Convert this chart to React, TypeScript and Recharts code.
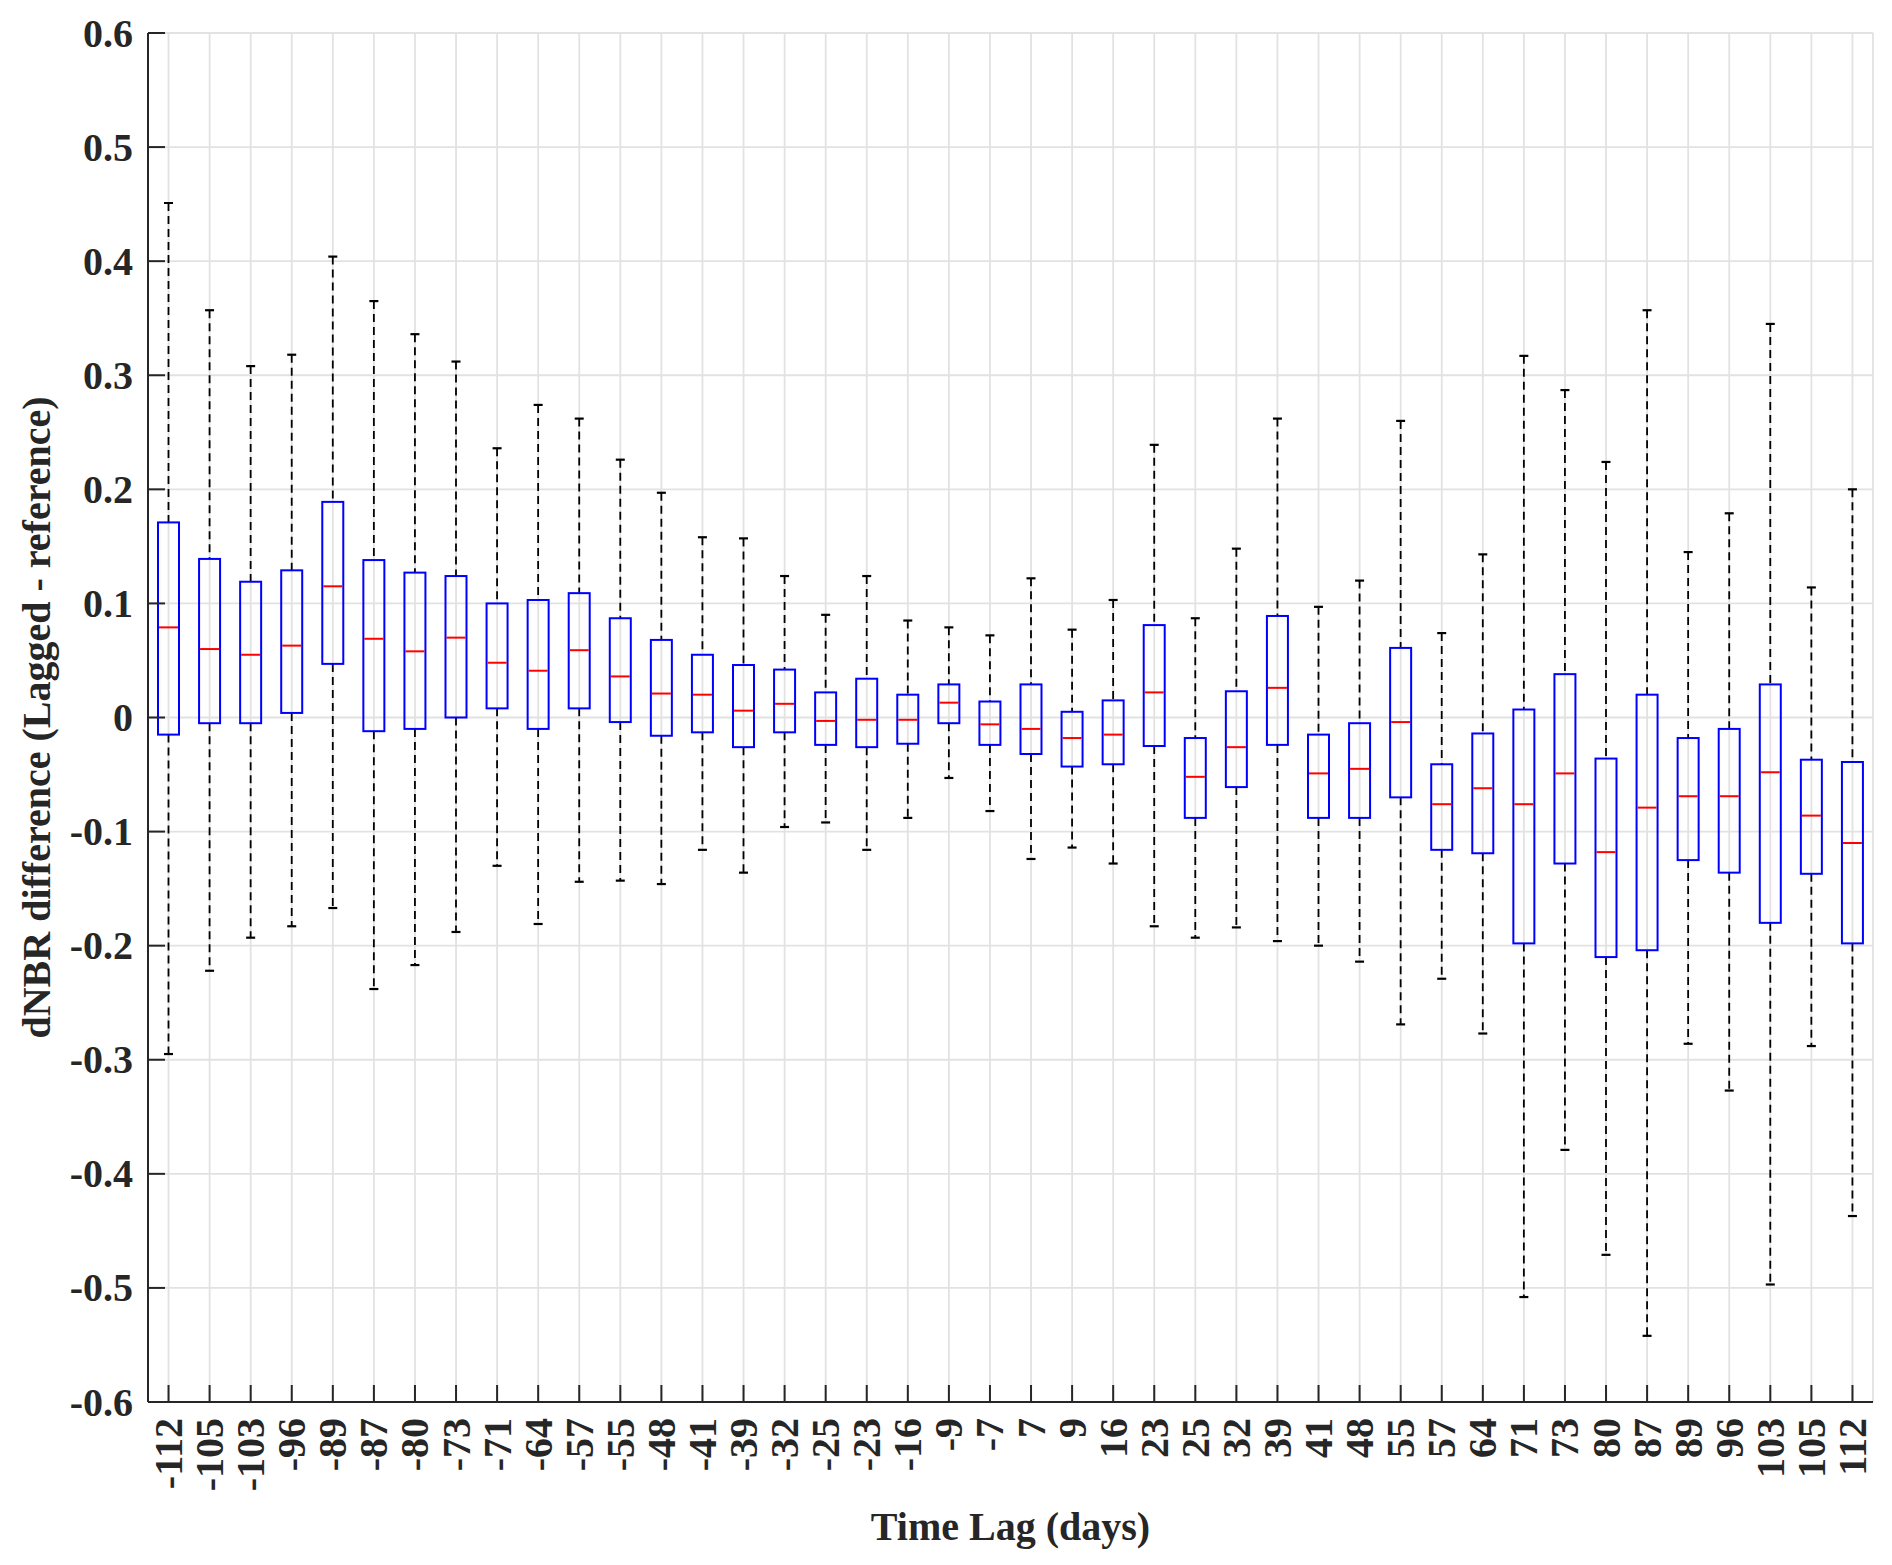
import React from 'react';
import { ComposedChart, Bar, Line, XAxis, YAxis, CartesianGrid, Label } from 'recharts';

const lags = ['-112','-105','-103','-96','-89','-87','-80','-73','-71','-64','-57','-55','-48','-41','-39','-32','-25','-23','-16','-9','-7','7','9','16','23','25','32','39','41','48','55','57','64','71','73','80','87','89','96','103','105','112'];
const whiskerHigh = [0.451,0.357,0.308,0.318,0.404,0.365,0.336,0.312,0.236,0.274,0.262,0.226,0.197,0.158,0.157,0.124,0.090,0.124,0.085,0.079,0.072,0.122,0.077,0.103,0.239,0.087,0.148,0.262,0.097,0.120,0.260,0.074,0.143,0.317,0.287,0.224,0.357,0.145,0.179,0.345,0.114,0.200];
const q3 = [0.171,0.139,0.119,0.129,0.189,0.138,0.127,0.124,0.100,0.103,0.109,0.087,0.068,0.055,0.046,0.042,0.022,0.034,0.020,0.029,0.014,0.029,0.005,0.015,0.081,-0.018,0.023,0.089,-0.015,-0.005,0.061,-0.041,-0.014,0.007,0.038,-0.036,0.020,-0.018,-0.010,0.029,-0.037,-0.039];
const median = [0.079,0.060,0.055,0.063,0.115,0.069,0.058,0.070,0.048,0.041,0.059,0.036,0.021,0.020,0.006,0.012,-0.003,-0.002,-0.002,0.013,-0.006,-0.010,-0.018,-0.015,0.022,-0.052,-0.026,0.026,-0.049,-0.045,-0.004,-0.076,-0.062,-0.076,-0.049,-0.118,-0.079,-0.069,-0.069,-0.048,-0.086,-0.110];
const q1 = [-0.015,-0.005,-0.005,0.004,0.047,-0.012,-0.010,0.000,0.008,-0.010,0.008,-0.004,-0.016,-0.013,-0.026,-0.013,-0.024,-0.026,-0.023,-0.005,-0.024,-0.032,-0.043,-0.041,-0.025,-0.088,-0.061,-0.024,-0.088,-0.088,-0.070,-0.116,-0.119,-0.198,-0.128,-0.210,-0.204,-0.125,-0.136,-0.180,-0.137,-0.198];
const whiskerLow = [-0.295,-0.222,-0.193,-0.183,-0.167,-0.238,-0.217,-0.188,-0.130,-0.181,-0.144,-0.143,-0.146,-0.116,-0.136,-0.096,-0.092,-0.116,-0.088,-0.053,-0.082,-0.124,-0.114,-0.128,-0.183,-0.193,-0.184,-0.196,-0.200,-0.214,-0.269,-0.229,-0.277,-0.508,-0.379,-0.471,-0.542,-0.286,-0.327,-0.497,-0.288,-0.437];
const yTicks = [-0.6,-0.5,-0.4,-0.3,-0.2,-0.1,0,0.1,0.2,0.3,0.4,0.5,0.6];

const data = lags.map((lag, i) => ({
  lag,
  low: whiskerLow[i],
  q1: q1[i],
  med: median[i],
  q3: q3[i],
  high: whiskerHigh[i],
}));

const FONT = 'Liberation Serif, Times New Roman, serif';
const TXT = '#262626';
const TICK_LEN = 17;

const fmt = (v: number) => (Math.abs(v) < 1e-9 ? '0' : v.toFixed(1));

const BoxShape = (props: any) => {
  const { x, y, width, height, index } = props;
  const d = props.payload && props.payload.lag !== undefined ? props.payload : data[index];
  const span = d.high - d.low;
  const k = height / span;
  const py = (v: number) => y + (d.high - v) * k;
  const cx = x + width / 2;
  const cap = 4.5;
  return (
    <g>
      <line x1={cx} x2={cx} y1={py(d.high)} y2={py(d.q3)} stroke="#000" strokeWidth={1.8} strokeDasharray="8 5" />
      <line x1={cx} x2={cx} y1={py(d.q1)} y2={py(d.low)} stroke="#000" strokeWidth={1.8} strokeDasharray="8 5" />
      <line x1={cx - cap} x2={cx + cap} y1={py(d.high)} y2={py(d.high)} stroke="#000" strokeWidth={2.2} />
      <line x1={cx - cap} x2={cx + cap} y1={py(d.low)} y2={py(d.low)} stroke="#000" strokeWidth={2.2} />
      <rect x={x} y={py(d.q3)} width={width} height={py(d.q1) - py(d.q3)} fill="none" stroke="#0000ff" strokeWidth={2} />
      <line x1={x + 1} x2={x + width - 1} y1={py(d.med)} y2={py(d.med)} stroke="#ff0000" strokeWidth={2} />
    </g>
  );
};

const LeftTick = (props: any) => {
  const { x, y, payload } = props;
  return (
    <g>
      <line x1={x + 15} x2={x + 15 + TICK_LEN} y1={y} y2={y} stroke={TXT} strokeWidth={2} />
      <text x={x} y={y} textAnchor="end" dominantBaseline="central" fontFamily={FONT} fontWeight="bold" fontSize={40} fill={TXT}>
        {fmt(payload.value)}
      </text>
    </g>
  );
};

const RightTick = (props: any) => {
  const { x, y } = props;
  return <line x1={x} x2={x - TICK_LEN} y1={y} y2={y} stroke={TXT} strokeWidth={2} />;
};

const BottomTick = (props: any) => {
  const { x, y, payload } = props;
  return (
    <g>
      <line x1={x} x2={x} y1={y - 16} y2={y - 16 - TICK_LEN} stroke={TXT} strokeWidth={2} />
      <text transform={`translate(${x},${y}) rotate(-90)`} textAnchor="end" dominantBaseline="central" fontFamily={FONT} fontWeight="bold" fontSize={40} fill={TXT}>
        {payload.value}
      </text>
    </g>
  );
};

const TopTick = (props: any) => {
  const { x, y } = props;
  return <line x1={x} x2={x} y1={y} y2={y + TICK_LEN} stroke={TXT} strokeWidth={2} />;
};

export default function App() {
  return (
    <ComposedChart width={1876} height={1550} data={data} margin={{ top: 25, right: 11, bottom: 6, left: 0 }}>
      <CartesianGrid stroke="#e2e2e2" strokeWidth={1.8} />
      <XAxis dataKey="lag" type="category" interval={0} height={150} tickSize={0} tickMargin={16} tick={<BottomTick />} tickLine={false} axisLine={{ stroke: TXT, strokeWidth: 2 }}>
        <Label
          content={(p: any) => {
            const vb = p.viewBox;
            return (
              <text x={vb.x + vb.width / 2} y={vb.y + 124} textAnchor="middle" dominantBaseline="central" fontFamily={FONT} fontWeight="bold" fontSize={40} fill={TXT}>
                Time Lag (days)
              </text>
            );
          }}
        />
      </XAxis>
      <XAxis xAxisId="top" orientation="top" dataKey="lag" type="category" interval={0} height={0} tickSize={0} tickMargin={0} tick={<TopTick />} tickLine={false} axisLine={{ stroke: TXT, strokeWidth: 2 }} />
      <YAxis type="number" domain={[-0.6, 0.6]} ticks={yTicks} interval={0} width={140} tickSize={0} tickMargin={15} tick={<LeftTick />} tickLine={false} allowDataOverflow axisLine={{ stroke: TXT, strokeWidth: 2 }}>
        <Label
          content={(p: any) => {
            const vb = p.viewBox;
            const cx = vb.x + 28;
            const cy = vb.y + vb.height / 2;
            return (
              <text transform={`translate(${cx},${cy}) rotate(-90)`} textAnchor="middle" dominantBaseline="central" fontFamily={FONT} fontWeight="bold" fontSize={40} fill={TXT}>
                dNBR difference (Lagged - reference)
              </text>
            );
          }}
        />
      </YAxis>
      <YAxis yAxisId="right" orientation="right" type="number" domain={[-0.6, 0.6]} ticks={yTicks} interval={0} width={0} tickSize={0} tickMargin={0} tick={<RightTick />} tickLine={false} allowDataOverflow axisLine={{ stroke: TXT, strokeWidth: 2 }} />
      <Bar dataKey={(d: any) => [d.low, d.high]} barSize={21} shape={<BoxShape />} isAnimationActive={false} />
      <Line xAxisId="top" yAxisId="right" dataKey="med" stroke="none" dot={false} activeDot={false} isAnimationActive={false} legendType="none" />
    </ComposedChart>
  );
}
